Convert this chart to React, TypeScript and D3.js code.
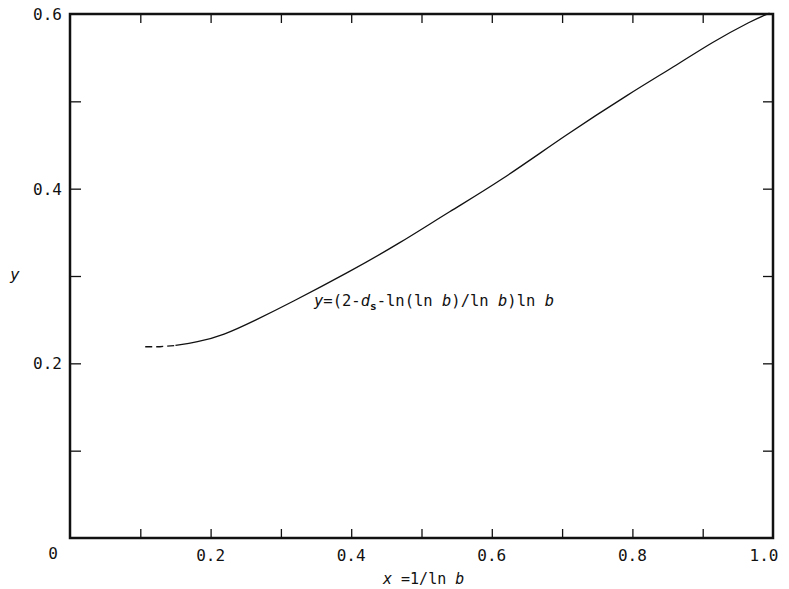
import React, { useEffect, useRef } from 'react';
import * as d3 from 'd3';

// dashed extrapolated part of the curve
const dashX = [0.107, 0.128, 0.15];
const dashY = [0.219, 0.219, 0.2205];

// solid curve
const curveX = [0.15, 0.18, 0.218, 0.263, 0.313, 0.398, 0.469, 0.54, 0.611, 0.706, 0.796, 0.866, 0.912, 0.971, 0.995];
const curveY = [0.2205, 0.224, 0.232, 0.249, 0.269, 0.305, 0.3375, 0.374, 0.408, 0.462, 0.509, 0.543, 0.567, 0.593, 0.601];

const xTicks = [0.1, 0.2, 0.3, 0.4, 0.5, 0.6, 0.7, 0.8, 0.9];
const xLabels = [0.2, 0.4, 0.6, 0.8, 1.0];
const yTicks = [0.1, 0.2, 0.3, 0.4, 0.5];
const yLabels = [0.2, 0.4, 0.6];

const FONT = '"DejaVu Sans Mono", "Liberation Mono", monospace';

function App() {
  const chartRef = useRef<SVGSVGElement>(null);

  const width = 789;
  const height = 589;
  const margin = { left: 70, right: 16, top: 14, bottom: 51 };

  useEffect(() => {
    document.body.style.margin = '0';

    const xScale = d3.scaleLinear()
      .domain([0, 1])
      .range([margin.left, width - margin.right]);

    const yScale = d3.scaleLinear()
      .domain([0, 0.6])
      .range([height - margin.bottom, margin.top]);

    const svg = d3.select(chartRef.current);
    svg.selectAll('*').remove();

    const ink = '#111';

    // inward ticks on all four sides
    const noLabel = () => '';
    const tickStyle = (g: any) => {
      g.select('.domain').remove();
      g.selectAll('line').attr('stroke', ink).attr('stroke-width', 1.3);
    };

    svg.append('g')
      .attr('transform', `translate(0, ${yScale(0)})`)
      .call(d3.axisBottom(xScale).tickValues(xTicks).tickSize(-9).tickFormat(noLabel))
      .call(tickStyle);

    svg.append('g')
      .attr('transform', `translate(0, ${yScale(0.6)})`)
      .call(d3.axisTop(xScale).tickValues(xTicks).tickSize(-9).tickFormat(noLabel))
      .call(tickStyle);

    svg.append('g')
      .attr('transform', `translate(${xScale(0)}, 0)`)
      .call(d3.axisLeft(yScale).tickValues(yTicks).tickSize(-11).tickFormat(noLabel))
      .call(tickStyle);

    svg.append('g')
      .attr('transform', `translate(${xScale(1)}, 0)`)
      .call(d3.axisRight(yScale).tickValues(yTicks).tickSize(-10).tickFormat(noLabel))
      .call(tickStyle);

    // frame
    svg.append('rect')
      .attr('x', xScale(0))
      .attr('y', yScale(0.6))
      .attr('width', xScale(1) - xScale(0))
      .attr('height', yScale(0) - yScale(0.6))
      .attr('fill', 'none')
      .attr('stroke', ink)
      .attr('stroke-width', 2.5);

    // tick labels
    svg.selectAll('.xlab')
      .data(xLabels)
      .enter()
      .append('text')
      .attr('x', d => xScale(d) + (d === 1 ? -9 : 0))
      .attr('y', yScale(0) + 23)
      .attr('text-anchor', 'middle')
      .attr('font-family', FONT)
      .attr('font-size', 16)
      .attr('fill', ink)
      .text(d => d.toFixed(1));

    svg.selectAll('.ylab')
      .data(yLabels)
      .enter()
      .append('text')
      .attr('x', xScale(0) - 8)
      .attr('y', d => yScale(d) + 6)
      .attr('text-anchor', 'end')
      .attr('font-family', FONT)
      .attr('font-size', 16)
      .attr('fill', ink)
      .text(d => d.toFixed(1));

    svg.append('text')
      .attr('x', xScale(0) - 17)
      .attr('y', yScale(0) + 21)
      .attr('text-anchor', 'middle')
      .attr('font-family', FONT)
      .attr('font-size', 16)
      .attr('fill', ink)
      .text('0');

    // axis titles
    svg.append('text')
      .attr('x', 10)
      .attr('y', 280)
      .attr('font-family', FONT)
      .attr('font-size', 16)
      .attr('font-style', 'italic')
      .attr('fill', ink)
      .text('y');

    const xt = svg.append('text')
      .attr('x', 383)
      .attr('y', 584)
      .attr('font-family', FONT)
      .attr('font-size', 15)
      .attr('fill', ink);
    xt.append('tspan').attr('font-style', 'italic').text('x');
    xt.append('tspan').text(' =1/ln ');
    xt.append('tspan').attr('font-style', 'italic').text('b');

    // curve (basis spline smooths out reading noise)
    const line = d3.line<number>()
      .x((d, i) => xScale(curveX[i]))
      .y(d => yScale(d))
      .curve(d3.curveBasis);

    svg.append('path')
      .datum(curveY)
      .attr('fill', 'none')
      .attr('stroke', ink)
      .attr('stroke-width', 1.3)
      .attr('d', line);

    const dashLine = d3.line<number>()
      .x((d, i) => xScale(dashX[i]))
      .y(d => yScale(d));

    svg.append('path')
      .datum(dashY)
      .attr('fill', 'none')
      .attr('stroke', ink)
      .attr('stroke-width', 1.3)
      .attr('stroke-dasharray', '7,4')
      .attr('d', dashLine);

    // equation label
    const eq = svg.append('text')
      .attr('x', 314)
      .attr('y', 306)
      .attr('font-family', FONT)
      .attr('font-size', 15.5)
      .attr('fill', ink);
    eq.append('tspan').attr('font-style', 'italic').text('y');
    eq.append('tspan').text('=(2-');
    eq.append('tspan').attr('font-style', 'italic').text('d');
    eq.append('tspan').attr('font-size', 11).attr('font-weight', 'bold').attr('dy', 4).text('s');
    eq.append('tspan').attr('dy', -4).text('-ln(ln ');
    eq.append('tspan').attr('font-style', 'italic').text('b');
    eq.append('tspan').text(')/ln ');
    eq.append('tspan').attr('font-style', 'italic').text('b');
    eq.append('tspan').text(')ln ');
    eq.append('tspan').attr('font-style', 'italic').text('b');

    // eslint-disable-next-line
  }, []);

  return (
    <svg ref={chartRef} width={width} height={height} style={{ display: 'block', background: '#fff' }}></svg>
  );
}

export default App;
